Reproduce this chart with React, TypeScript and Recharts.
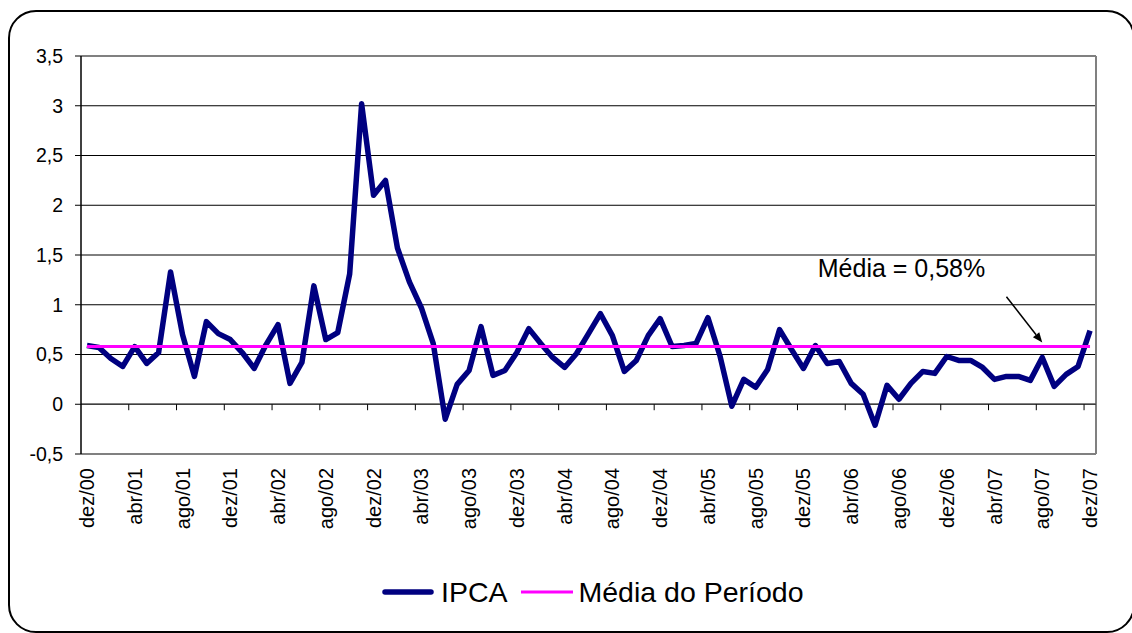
import React from 'react';
import { LineChart, Line, XAxis, YAxis, CartesianGrid, ReferenceLine, ReferenceDot, Legend } from 'recharts';

const FONT = "Arial, 'Liberation Sans', sans-serif";

// meses de dez/00 a dez/07
const MONTHS = [
  'dez/00',
  'jan/01', 'fev/01', 'mar/01', 'abr/01', 'mai/01', 'jun/01', 'jul/01', 'ago/01', 'set/01', 'out/01', 'nov/01', 'dez/01',
  'jan/02', 'fev/02', 'mar/02', 'abr/02', 'mai/02', 'jun/02', 'jul/02', 'ago/02', 'set/02', 'out/02', 'nov/02', 'dez/02',
  'jan/03', 'fev/03', 'mar/03', 'abr/03', 'mai/03', 'jun/03', 'jul/03', 'ago/03', 'set/03', 'out/03', 'nov/03', 'dez/03',
  'jan/04', 'fev/04', 'mar/04', 'abr/04', 'mai/04', 'jun/04', 'jul/04', 'ago/04', 'set/04', 'out/04', 'nov/04', 'dez/04',
  'jan/05', 'fev/05', 'mar/05', 'abr/05', 'mai/05', 'jun/05', 'jul/05', 'ago/05', 'set/05', 'out/05', 'nov/05', 'dez/05',
  'jan/06', 'fev/06', 'mar/06', 'abr/06', 'mai/06', 'jun/06', 'jul/06', 'ago/06', 'set/06', 'out/06', 'nov/06', 'dez/06',
  'jan/07', 'fev/07', 'mar/07', 'abr/07', 'mai/07', 'jun/07', 'jul/07', 'ago/07', 'set/07', 'out/07', 'nov/07', 'dez/07',
];

// IPCA mensal (%)
const IPCA = [
  0.59,
  0.57, 0.46, 0.38, 0.58, 0.41, 0.52, 1.33, 0.70, 0.28, 0.83, 0.71, 0.65,
  0.52, 0.36, 0.60, 0.80, 0.21, 0.42, 1.19, 0.65, 0.72, 1.31, 3.02, 2.10,
  2.25, 1.57, 1.23, 0.97, 0.61, -0.15, 0.20, 0.34, 0.78, 0.29, 0.34, 0.52,
  0.76, 0.61, 0.47, 0.37, 0.51, 0.71, 0.91, 0.69, 0.33, 0.44, 0.69, 0.86,
  0.58, 0.59, 0.61, 0.87, 0.49, -0.02, 0.25, 0.17, 0.35, 0.75, 0.55, 0.36,
  0.59, 0.41, 0.43, 0.21, 0.10, -0.21, 0.19, 0.05, 0.21, 0.33, 0.31, 0.48,
  0.44, 0.44, 0.37, 0.25, 0.28, 0.28, 0.24, 0.47, 0.18, 0.30, 0.38, 0.74,
];

const MEDIA = 0.58;

const Y_TICKS = [-0.5, 0, 0.5, 1, 1.5, 2, 2.5, 3, 3.5];
const LABEL_IDX = [0, 4, 8, 12, 16, 20, 24, 28, 32, 36, 40, 44, 48, 52, 56, 60, 64, 68, 72, 76, 80, 84];
const TICK_MARKS = [3.5, 7.5, 11.5, 15.5, 19.5, 23.5, 27.5, 31.5, 35.5, 39.5, 43.5, 47.5, 51.5, 55.5, 59.5, 63.5, 67.5, 71.5, 75.5, 79.5, 83.5];

const data = MONTHS.map((mes, i) => ({ idx: i, mes, ipca: IPCA[i], media: MEDIA }));

const XTick = ({ x, y, payload }: any) => (
  <g transform={`translate(${x},${y})`}>
    <text transform="rotate(-90)" textAnchor="end" dx={-14} dy="0.35em" fontSize={20} fill="#000" fontFamily={FONT}>
      {MONTHS[payload.value]}
    </text>
  </g>
);

const Arrow = (props: any) => {
  const { x1, y1, x2, y2 } = props;
  const ang = Math.atan2(y2 - y1, x2 - x1);
  const len = 10;
  const w = 4;
  const bx = x2 - len * Math.cos(ang);
  const by = y2 - len * Math.sin(ang);
  const px = -Math.sin(ang) * w;
  const py = Math.cos(ang) * w;
  return (
    <g>
      <line x1={x1} y1={y1} x2={bx} y2={by} stroke="#000" strokeWidth={1.5} />
      <polygon points={`${x2},${y2} ${bx + px},${by + py} ${bx - px},${by - py}`} fill="#000" />
    </g>
  );
};

const MediaLabel = ({ cx, cy }: any) => (
  <text x={cx} y={cy} fontSize={25} fill="#000" fontFamily={FONT}>
    Média = 0,58%
  </text>
);

const LegendContent = () => (
  <div style={{ display: 'flex', alignItems: 'center', height: 40, fontFamily: FONT, fontSize: 28.5, color: '#000', whiteSpace: 'nowrap' }}>
    <svg width={52} height={10}>
      <line x1={3} y1={5} x2={49} y2={5} stroke="#000080" strokeWidth={5.5} strokeLinecap="round" />
    </svg>
    <span style={{ marginLeft: 7 }}>IPCA</span>
    <svg width={54} height={10} style={{ marginLeft: 12 }}>
      <line x1={1} y1={5} x2={53} y2={5} stroke="#FF00FF" strokeWidth={3} />
    </svg>
    <span style={{ marginLeft: 5 }}>Média do Período</span>
  </div>
);

export default function App() {
  return (
    <div style={{ position: 'absolute', left: 0, top: 0, width: 1132, height: 633, overflow: 'hidden', background: '#fff' }}>
      <div
        style={{
          position: 'absolute',
          left: 8,
          top: 10,
          width: 1127,
          height: 623,
          border: '2px solid #000',
          borderRadius: 28,
          boxSizing: 'border-box',
        }}
      />
      <LineChart width={1132} height={633} data={data} margin={{ top: 56, right: 36, left: 0, bottom: 59 }}>
        <CartesianGrid horizontal vertical={false} stroke="#000" strokeWidth={1} />
        <XAxis
          type="number"
          dataKey="idx"
          domain={[-0.5, 84.5]}
          ticks={LABEL_IDX}
          interval={0}
          axisLine={false}
          tickLine={false}
          tickSize={0}
          tickMargin={0}
          height={80}
          tick={<XTick />}
        />
        <YAxis
          width={81}
          domain={[-0.5, 3.5]}
          ticks={Y_TICKS}
          interval={0}
          tickFormatter={(v: number) => String(v).replace('.', ',')}
          tick={{ fontSize: 19.5, fill: '#000', fontFamily: FONT }}
          axisLine={{ stroke: '#000', strokeWidth: 1.5 }}
          tickLine={{ stroke: '#000' }}
          tickSize={6}
          tickMargin={12}
        />
        <ReferenceLine y={3.5} stroke="#808080" strokeWidth={2} />
        <ReferenceLine y={-0.5} stroke="#808080" strokeWidth={2} />
        <ReferenceLine x={84.5} stroke="#808080" strokeWidth={2} />
        <ReferenceLine y={0} stroke="#404040" strokeWidth={1.5} />
        {TICK_MARKS.map((b) => (
          <ReferenceLine key={b} segment={[{ x: b, y: 0 }, { x: b, y: -0.06 }]} stroke="#000" strokeWidth={1} />
        ))}
        <Line
          type="linear"
          dataKey="ipca"
          name="IPCA"
          stroke="#000080"
          strokeWidth={5.5}
          strokeLinejoin="round"
          dot={false}
          isAnimationActive={false}
        />
        <Line
          type="linear"
          dataKey="media"
          name="Média do Período"
          stroke="#FF00FF"
          strokeWidth={3}
          dot={false}
          isAnimationActive={false}
        />
        <ReferenceLine segment={[{ x: 77, y: 1.08 }, { x: 80, y: 0.62 }]} shape={<Arrow />} />
        <ReferenceDot x={61.2} y={1.28} r={0} shape={<MediaLabel />} />
        <Legend
          verticalAlign="bottom"
          content={<LegendContent />}
          wrapperStyle={{ position: 'absolute', left: 382, top: 572, bottom: 'auto', width: 'auto' }}
        />
      </LineChart>
    </div>
  );
}
